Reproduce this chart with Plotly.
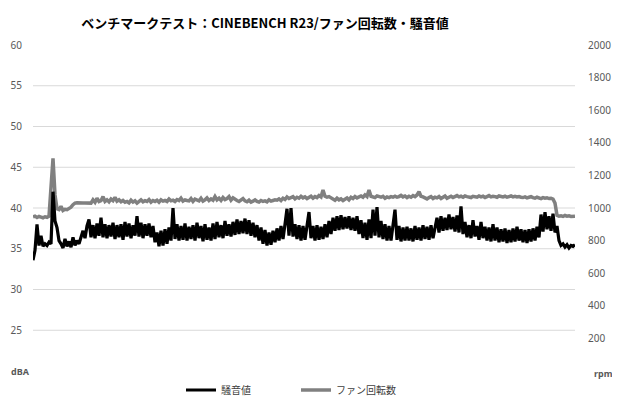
import plotly.graph_objects as go

# 騒音値 (dBA) samples
noise_dba = [
    33.6, 34.8, 38.0, 35.4, 36.6, 35.3, 35.6, 35.4, 35.8, 35.6,
    42.0, 38.4, 37.6, 36.0, 35.6, 35.1, 36.2, 35.3, 35.9, 35.2,
    36.4, 35.4, 36.0, 35.6,
    36.4, 37.2, 36.3, 37.8, 38.6, 36.4, 37.9, 36.3, 38.1, 36.6,
    38.8, 36.4, 38.0, 36.3, 37.9, 36.5, 38.2, 36.2, 37.9, 36.4,
    38.0, 36.1, 38.3, 36.5, 38.1, 36.3, 37.9, 36.6, 39.0, 36.5,
    38.2, 36.3, 38.0, 36.6, 38.1, 36.4,
    37.8, 35.8, 37.0, 35.3, 37.2, 35.4, 37.4, 35.6, 37.6, 36.0,
    40.0,
    36.2, 38.0, 36.0, 37.8, 36.1, 38.1, 36.0, 37.7, 36.2, 37.9,
    36.0, 38.2, 36.3, 37.8, 35.9, 38.0, 36.1, 37.6, 36.0, 38.1,
    36.2, 38.3, 36.4, 37.9, 36.3, 38.4, 36.6, 38.0, 36.5, 38.3,
    36.7, 38.6, 36.8, 38.4, 36.9, 38.7, 36.8, 38.5, 36.6, 38.2,
    36.4, 37.9, 36.0, 37.6, 35.6, 37.3, 35.4, 37.0, 35.5, 37.2,
    35.8, 37.5, 36.0, 37.8, 36.2, 38.0,
    39.9, 36.6, 40.0, 36.5,
    38.0, 36.2, 37.9, 36.0, 37.8, 36.1, 38.0,
    39.5,
    36.3, 37.8, 36.0, 37.9, 36.1, 37.7, 36.2, 38.0, 36.4, 38.4, 36.8,
    38.8, 37.2, 39.0, 37.3, 39.1, 37.4, 38.9, 37.5, 39.0, 37.3, 38.8, 37.2, 39.0, 36.8, 38.5,
    36.3, 38.2, 36.1, 38.6, 36.3,
    39.8, 36.6, 40.1, 36.4, 38.4, 36.2, 38.0, 36.0, 37.8, 36.0, 37.6,
    39.8,
    36.1, 37.8, 35.9, 37.6, 36.0, 37.7, 36.0, 37.5, 35.9, 37.8,
    36.1, 37.6, 36.0, 37.9, 36.2, 37.7, 36.1, 37.9, 36.3, 37.8,
    38.8, 37.0, 39.0, 37.2, 38.8, 37.3, 39.2, 37.4, 38.9, 37.1, 39.1, 37.0,
    40.2,
    36.8, 38.3, 36.4, 37.9, 36.3, 38.5, 36.5, 37.8, 36.1, 38.3,
    36.3, 37.7, 36.0, 37.6, 35.9, 38.0, 36.0, 37.6, 35.8, 37.4,
    35.9, 37.5, 35.7, 37.3, 35.8, 37.5, 35.9, 37.7, 36.0, 37.4,
    35.8, 37.3, 35.7, 37.4, 35.9, 37.5, 36.0, 37.7, 36.4,
    39.2, 37.1, 39.5, 37.4, 39.0, 37.2, 39.3, 37.0, 37.8, 36.0,
    35.4, 35.6, 35.2, 35.5, 35.1, 35.4, 35.3, 35.5,
]

# ファン回転数 (rpm) samples
fan_rpm = [
    945, 950, 942, 948, 944, 940, 946, 943, 950,
    1150, 1305, 1080, 995, 990, 1010, 985, 992, 990, 995, 1005, 1020, 1030, 1032,
    1030, 1033, 1030, 1031, 1030, 1034, 1030,
    1050, 1035, 1060, 1040, 1045, 1070, 1040, 1050, 1038, 1055, 1045,
    1065, 1042, 1050, 1038, 1046, 1035, 1040, 1032, 1048, 1036, 1044, 1030, 1042, 1050, 1038, 1045, 1040, 1052, 1036, 1046,
    1040, 1048, 1036, 1050, 1042, 1046, 1040, 1055, 1044, 1048, 1040, 1052, 1046, 1060, 1042, 1050, 1046, 1044, 1058, 1040,
    1054, 1048, 1044, 1060, 1042, 1050, 1062, 1046, 1056, 1048, 1070, 1050, 1060, 1046, 1064, 1052, 1058, 1070, 1048, 1062,
    1052, 1046, 1040, 1050, 1058, 1044, 1038, 1048, 1036, 1042, 1050, 1040, 1036, 1046, 1040, 1044, 1038, 1050, 1042, 1046,
    1050, 1048, 1056, 1046, 1060, 1052, 1068, 1058, 1064, 1070, 1056, 1066, 1060, 1072, 1062, 1068, 1058, 1064, 1072, 1060,
    1070, 1064, 1076, 1068, 1110, 1072, 1066, 1070, 1062, 1058, 1048, 1060, 1050, 1056, 1046, 1054, 1062, 1050, 1066, 1058,
    1070, 1062, 1068, 1074, 1066, 1080, 1070, 1110, 1072, 1068, 1064, 1074, 1068, 1066, 1072, 1060, 1068, 1064, 1070, 1066,
    1072, 1066, 1070, 1078, 1068, 1074, 1064, 1072, 1066, 1076, 1070, 1080, 1100, 1072, 1068, 1060, 1056, 1064, 1070, 1058,
    1066, 1062, 1070, 1058, 1066, 1074, 1060, 1068, 1072, 1064, 1070, 1076, 1068, 1072, 1066, 1074, 1070, 1068, 1064, 1072,
    1070, 1066, 1074, 1068, 1072, 1064, 1070, 1076, 1068, 1072, 1070, 1066, 1074, 1070, 1068, 1072, 1066, 1070, 1074, 1068,
    1072, 1068, 1070, 1066, 1064, 1068, 1062, 1066, 1070, 1064, 1060, 1066, 1062, 1058, 1064, 1060, 1062, 1058, 1060, 1055,
    1030, 955,
    950, 952, 948, 954, 950, 952, 948, 951, 950,
]

dba_ticks = [25, 30, 35, 40, 45, 50, 55, 60]
dba_grid = [25, 30, 35, 40, 45, 50, 55]
rpm_ticks = [200, 400, 600, 800, 1000, 1200, 1400, 1600, 1800, 2000]

title_text = "ベンチマークテスト：CINEBENCH R23/ファン回転数・騒音値"
FONT = "Noto Sans CJK JP"
TICK_FONT = "Noto Sans"
TICK_COLOR = "#595959"

# The page body has an 8px margin, so the figure is sized to fill the rest of the window.
W, H = 612, 392
OFF = 8

fig = go.Figure()
fig.add_trace(go.Scatter(
    x=list(range(len(fan_rpm))), y=fan_rpm, name="ファン回転数", mode="lines",
    line=dict(color="#808080", width=3.5), yaxis="y", legendrank=2,
))
fig.add_trace(go.Scatter(
    x=list(range(len(noise_dba))), y=noise_dba, name="騒音値", mode="lines",
    line=dict(color="#000000", width=3.2), yaxis="y2", legendrank=1,
))

for v in dba_grid:
    fig.add_shape(type="line", xref="paper", x0=0, x1=1, yref="y2", y0=v, y1=v,
                  line=dict(color="#d9d9d9", width=1), layer="below")

fig.update_layout(
    width=W, height=H,
    margin=dict(l=33 - OFF, r=45, t=45 - OFF, b=29),
    paper_bgcolor="white", plot_bgcolor="white",
    font=dict(family=TICK_FONT, size=10, color=TICK_COLOR),
    title=dict(text="<b>" + title_text + "</b>", x=(265 - OFF) / W, xanchor="center",
               y=1 - (23 - OFF) / H, yanchor="middle",
               font=dict(family=FONT, size=13, color="#000000")),
    xaxis=dict(range=[0, len(noise_dba) - 1], showticklabels=False, showgrid=False,
               zeroline=False, showline=False, automargin=False),
    yaxis=dict(range=[0, 2000], tickvals=rpm_ticks, side="right", showgrid=False,
               zeroline=False, showline=False, ticks="outside", ticklen=10,
               tickcolor="rgba(0,0,0,0)", automargin=False,
               tickfont=dict(family=TICK_FONT, size=10, color=TICK_COLOR)),
    yaxis2=dict(range=[20, 60], tickvals=dba_ticks, side="left", overlaying="y",
                showgrid=False, zeroline=False, showline=False, ticks="outside",
                ticklen=8, tickcolor="rgba(0,0,0,0)", automargin=False,
                tickfont=dict(family=TICK_FONT, size=10, color=TICK_COLOR)),
    showlegend=True,
    legend=dict(orientation="h", xref="container", yref="container",
                x=(296 - OFF) / W, xanchor="center", y=1 - (390 - OFF) / H, yanchor="middle",
                font=dict(family=FONT, size=10, color="#404040"), itemwidth=30,
                entrywidth=70, entrywidthmode="pixels",
                bgcolor="rgba(0,0,0,0)"),
)

fig.add_annotation(text="<b>dBA</b>", xref="paper", yref="paper",
                   x=-(33 - 20) / 542, y=0, xanchor="center", yanchor="middle",
                   showarrow=False, font=dict(family=TICK_FONT, size=9, color=TICK_COLOR))
fig.add_annotation(text="<b>rpm</b>", xref="paper", yref="paper",
                   x=1 + (603 - 575) / 542, y=-2 / 326, xanchor="center", yanchor="middle",
                   showarrow=False, font=dict(family=TICK_FONT, size=9, color=TICK_COLOR))

fig.write_html("out.html")
